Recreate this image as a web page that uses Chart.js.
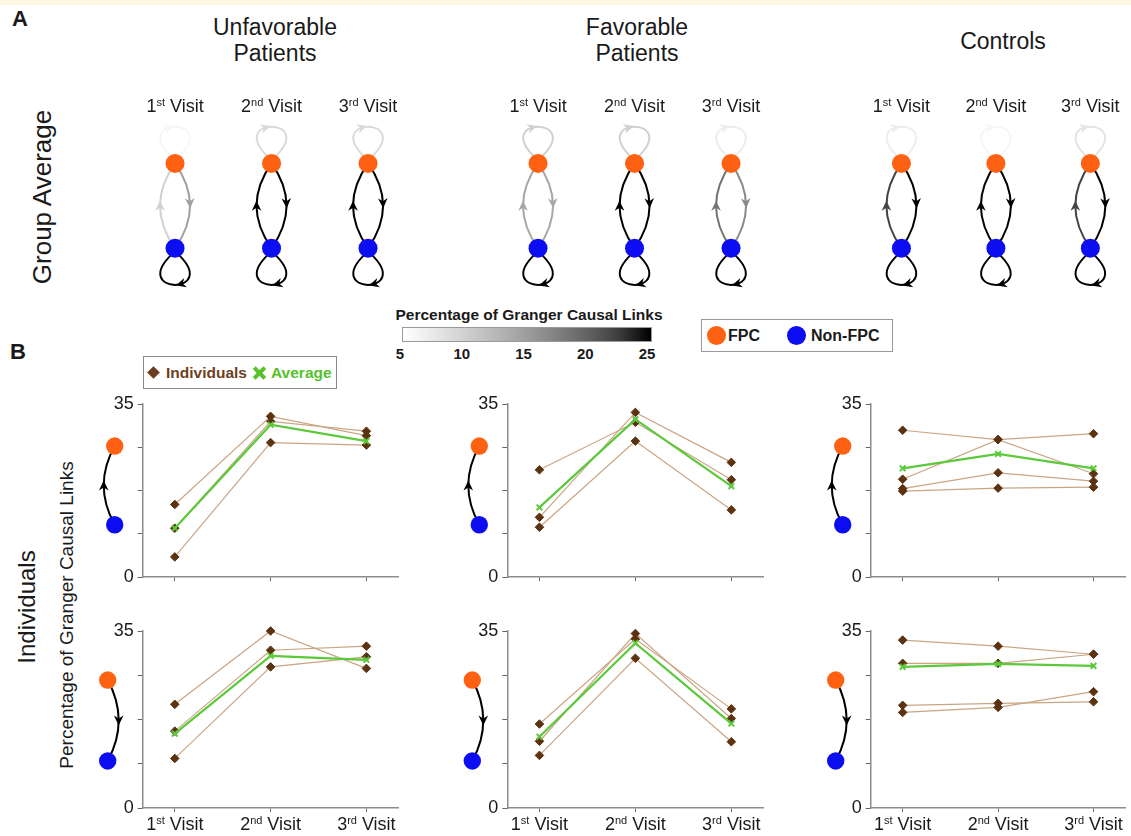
<!DOCTYPE html>
<html><head><meta charset="utf-8">
<script src="https://cdn.jsdelivr.net/npm/chart.js@4.4.1/dist/chart.umd.min.js"></script>
<style>
html,body{margin:0;padding:0;background:#fff;}
#root{position:relative;width:1131px;height:836px;overflow:hidden;font-family:"Liberation Sans",Arial,sans-serif;color:#1a1a1a;}
.t{position:absolute;white-space:nowrap;transform:translate(-50%,-50%);text-align:center;}
.l{position:absolute;white-space:nowrap;transform:translateY(-50%);}
.rot{transform:translate(-50%,-50%) rotate(-90deg);}
canvas{position:absolute;}
</style></head>
<body><div id="root">
<div style="position:absolute;left:0;top:0;width:1131px;height:5px;background:#fdf6e0"></div>
<div class="l" style="left:12px;top:19px;font-weight:bold;font-size:22px;">A</div>
<div class="l" style="left:10px;top:352px;font-weight:bold;font-size:22px;">B</div>
<div class="t" style="left:275px;top:40px;font-size:23px;line-height:26px;">Unfavorable<br>Patients</div>
<div class="t" style="left:637px;top:40px;font-size:23px;line-height:26px;">Favorable<br>Patients</div>
<div class="t" style="left:1003px;top:41px;font-size:23px;line-height:26px;">Controls</div>
<div class="t rot" style="left:42px;top:197px;font-size:26px;">Group Average</div>
<div class="t rot" style="left:27px;top:607px;font-size:24px;">Individuals</div>
<div class="t rot" style="left:67px;top:615px;font-size:19px;">Percentage of Granger Causal Links</div>

<div style="position:absolute;left:143px;top:356px;width:194px;height:33px;border:1px solid #8a8a8a;box-sizing:border-box;"></div>
<div style="position:absolute;left:149px;top:368px;width:9px;height:9px;background:#6b3d1f;transform:rotate(45deg);"></div>
<div class="l" style="left:166px;top:373px;font-weight:bold;font-size:15.5px;color:#6e4020;">Individuals</div>
<div style="position:absolute;left:252px;top:371px;width:15px;height:4px;background:#55c22a;transform:rotate(45deg);"></div>
<div style="position:absolute;left:252px;top:371px;width:15px;height:4px;background:#55c22a;transform:rotate(-45deg);"></div>
<div class="l" style="left:271px;top:373px;font-weight:bold;font-size:15.5px;color:#55c22a;">Average</div>

<div class="t" style="left:529px;top:315px;font-weight:bold;font-size:15.5px;">Percentage of Granger Causal Links</div>
<div id="cbBar" style="position:absolute;left:402px;top:327px;width:250px;height:15px;border:1px solid #9a9a9a;box-sizing:border-box;"></div>
<div id="cbLabels"></div>

<div style="position:absolute;left:701px;top:319px;width:192px;height:33px;border:1px solid #9a9a9a;box-sizing:border-box;"></div>
<div style="position:absolute;left:707px;top:326px;width:19px;height:19px;border-radius:50%;background:#ff6112;"></div>
<div class="l" style="left:728px;top:336px;font-weight:bold;font-size:16px;">FPC</div>
<div style="position:absolute;left:787px;top:326px;width:19px;height:19px;border-radius:50%;background:#0d0df2;"></div>
<div class="l" style="left:811px;top:336px;font-weight:bold;font-size:16px;">Non-FPC</div>
</div>
<script>
// ---------------- DATA ----------------
const visits = [1, 2, 3];
const visitNums = ['1', '2', '3'];
const visitSups = ['st', 'nd', 'rd'];
const yTicks = [0, 8.75, 17.5, 26.25, 35];
const yLabeled = [0, 35];
const colorbarTicks = [5, 10, 15, 20, 25];

// Panel B, top row: Non-FPC -> FPC links (%)
const unfavUpIndividuals = [[14.7, 32.5, 28.6], [9.9, 31.5, 29.5], [4.1, 27.2, 26.7]];
const unfavUpAverage = [9.9, 30.8, 27.5];
const favUpIndividuals = [[21.7, 31.3, 19.7], [12.1, 33.3, 23.2], [10.1, 27.5, 13.6]];
const favUpAverage = [14.1, 31.9, 18.4];
const ctrlUpIndividuals = [[29.7, 27.8, 29.0], [19.8, 27.8, 20.9], [17.9, 21.1, 19.4], [17.4, 18.0, 18.2]];
const ctrlUpAverage = [22.0, 24.9, 22.0];

// Panel B, bottom row: FPC -> Non-FPC links (%)
const unfavDownIndividuals = [[20.5, 35.0, 27.6], [15.2, 31.2, 32.0], [9.8, 27.9, 29.9]];
const unfavDownAverage = [14.7, 30.1, 29.3];
const favDownIndividuals = [[16.6, 33.4, 19.6], [13.2, 34.5, 17.7], [10.4, 29.6, 13.1]];
const favDownAverage = [14.1, 32.6, 16.7];
const ctrlDownIndividuals = [[33.2, 32.0, 30.4], [28.6, 28.6, 30.4], [20.3, 20.7, 21.0], [18.9, 19.9, 23.0]];
const ctrlDownAverage = [27.9, 28.5, 28.1];

// Panel A self-loops (%)
const unfavFpcSelf = [6, 9, 9];
const favFpcSelf = [10, 10, 7];
const ctrlFpcSelf = [7, 6, 8];
const unfavNonFpcSelf = [27, 27, 27];
const favNonFpcSelf = [27, 27, 27];
const ctrlNonFpcSelf = [27, 27, 27];

// ---------------- HELPERS ----------------
const FONT = '"Liberation Sans", Arial, sans-serif';
const ORANGE = '#ff6112', BLUE = '#0d0df2';
const grayLevel = v => { const f = Math.min(1, Math.max(0, (v - 5) / 20)); return Math.round(255 * Math.pow(1 - f, 0.7)); };
const grayFor = v => { const g = grayLevel(v); return `rgb(${g},${g},${g})`; };

function arrowHead(ctx, x, y, ang, color, len = 10, half = 4.8) {
  ctx.save(); ctx.translate(x, y); ctx.rotate(ang);
  ctx.beginPath(); ctx.moveTo(len / 2, 0); ctx.lineTo(-len / 2, -half); ctx.lineTo(-len / 5, 0); ctx.lineTo(-len / 2, half); ctx.closePath();
  ctx.fillStyle = color; ctx.fill(); ctx.restore();
}
function cubicPt(p, t) { const u = 1 - t; return [0, 1].map(k => u*u*u*p[0][k] + 3*u*u*t*p[1][k] + 3*u*t*t*p[2][k] + t*t*t*p[3][k]); }
function cubicD(p, t) { const u = 1 - t; return [0, 1].map(k => 3*u*u*(p[1][k]-p[0][k]) + 6*u*t*(p[2][k]-p[1][k]) + 3*t*t*(p[3][k]-p[2][k])); }
function quadPt(p, t) { const u = 1 - t; return [0, 1].map(k => u*u*p[0][k] + 2*u*t*p[1][k] + t*t*p[2][k]); }
function quadD(p, t) { const u = 1 - t; return [0, 1].map(k => 2*u*(p[1][k]-p[0][k]) + 2*t*(p[2][k]-p[1][k])); }

function strokeCubic(ctx, p, color, lw, tArrow) {
  ctx.save(); ctx.strokeStyle = color; ctx.lineWidth = lw; ctx.beginPath();
  ctx.moveTo(p[0][0], p[0][1]); ctx.bezierCurveTo(p[1][0], p[1][1], p[2][0], p[2][1], p[3][0], p[3][1]); ctx.stroke(); ctx.restore();
  const a = cubicPt(p, tArrow), d = cubicD(p, tArrow); arrowHead(ctx, a[0], a[1], Math.atan2(d[1], d[0]), color);
}
function strokeQuad(ctx, p, color, lw, tArrow) {
  ctx.save(); ctx.strokeStyle = color; ctx.lineWidth = lw; ctx.beginPath();
  ctx.moveTo(p[0][0], p[0][1]); ctx.quadraticCurveTo(p[1][0], p[1][1], p[2][0], p[2][1]); ctx.stroke(); ctx.restore();
  const a = quadPt(p, tArrow), d = quadD(p, tArrow); arrowHead(ctx, a[0], a[1], Math.atan2(d[1], d[0]), color);
}
function drawVisitLabel(ctx, x, yCenter, i, size) {
  ctx.save(); ctx.fillStyle = '#1a1a1a'; ctx.textBaseline = 'alphabetic'; ctx.textAlign = 'left';
  const main = `${size}px ${FONT}`, sup = `${Math.round(size * 0.6)}px ${FONT}`;
  ctx.font = main; const w1 = ctx.measureText(visitNums[i]).width, w3 = ctx.measureText(' Visit').width;
  ctx.font = sup; const w2 = ctx.measureText(visitSups[i]).width;
  let x0 = x - (w1 + w2 + w3) / 2; const base = yCenter + size * 0.36;
  ctx.font = main; ctx.fillText(visitNums[i], x0, base); x0 += w1;
  ctx.font = sup; ctx.fillText(visitSups[i], x0, base - size * 0.36); x0 += w2;
  ctx.font = main; ctx.fillText(' Visit', x0, base);
  ctx.restore();
}
function addCanvas(left, top, w, h) {
  const c = document.createElement('canvas'); c.width = w; c.height = h;
  c.style.left = left + 'px'; c.style.top = top + 'px'; c.style.width = w + 'px'; c.style.height = h + 'px';
  document.getElementById('root').appendChild(c); return c;
}

// colorbar (same gray mapping as the network edges) and its labels
(function () {
  const stops = [];
  for (let v = 5; v <= 25; v += 2.5) { const g = grayLevel(v); stops.push(`rgb(${g},${g},${g}) ${((v - 5) / 20 * 100).toFixed(1)}%`); }
  document.getElementById('cbBar').style.background = `linear-gradient(to right, ${stops.join(',')})`;
  const host = document.getElementById('cbLabels');
  colorbarTicks.forEach(t => {
    const d = document.createElement('div'); d.className = 't';
    d.style.cssText = `left:${400 + (t - 5) / 20 * 247}px;top:353px;font-weight:bold;font-size:15px;`;
    d.textContent = String(t); host.appendChild(d);
  });
})();

// ---------------- PANEL A ----------------
const panelAGroups = [
  { fpcSelf: unfavFpcSelf, nonSelf: unfavNonFpcSelf, up: unfavUpAverage, down: unfavDownAverage, areaLeft: 142.7, areaW: 257.2 },
  { fpcSelf: favFpcSelf, nonSelf: favNonFpcSelf, up: favUpAverage, down: favDownAverage, areaLeft: 505.7, areaW: 257.2 },
  { fpcSelf: ctrlFpcSelf, nonSelf: ctrlNonFpcSelf, up: ctrlUpAverage, down: ctrlDownAverage, areaLeft: 869.8, areaW: 255.8 }
];
panelAGroups.forEach(g => {
  const cl = Math.floor(g.areaLeft - 40), cw = Math.min(1131 - cl, Math.ceil(g.areaW + 80));
  const ct = 88, ch = 212;
  const cv = addCanvas(cl, ct, cw, ch);
  const netPlugin = {
    id: 'net',
    beforeDatasetsDraw(chart) {
      const ctx = chart.ctx, xs = chart.scales.x, ys = chart.scales.y;
      visits.forEach((v, i) => {
        const cx = xs.getPixelForValue(v), yo = ys.getPixelForValue(1), yb = ys.getPixelForValue(0), mid = (yo + yb) / 2;
        strokeCubic(ctx, [[cx - 3, yo - 6], [cx - 46, yo - 47], [cx + 46, yo - 47], [cx + 3, yo - 6]], grayFor(g.fpcSelf[i]), 2, 0.42);
        strokeCubic(ctx, [[cx + 3, yb + 6], [cx + 46, yb + 47], [cx - 46, yb + 47], [cx - 3, yb + 6]], grayFor(g.nonSelf[i]), 2, 0.42);
        strokeQuad(ctx, [[cx, yb], [cx - 30, mid], [cx, yo]], grayFor(g.up[i]), 2, 0.5);
        strokeQuad(ctx, [[cx, yo], [cx + 30, mid], [cx, yb]], grayFor(g.down[i]), 2, 0.47);
      });
    },
    afterDraw(chart) {
      const xs = chart.scales.x;
      visits.forEach((v, i) => drawVisitLabel(chart.ctx, xs.getPixelForValue(v), 106 - ct, i, 18));
    }
  };
  new Chart(cv, {
    type: 'scatter',
    data: { datasets: [
      { data: visits.map(v => ({ x: v, y: 1 })), pointRadius: 9.5, backgroundColor: ORANGE, borderWidth: 0, pointBorderWidth: 0 },
      { data: visits.map(v => ({ x: v, y: 0 })), pointRadius: 9.5, backgroundColor: BLUE, borderWidth: 0, pointBorderWidth: 0 }
    ] },
    options: {
      responsive: false, animation: false, devicePixelRatio: 1,
      layout: { padding: { left: g.areaLeft - cl, right: cl + cw - (g.areaLeft + g.areaW), top: 121 - ct, bottom: ct + ch - 293 } },
      plugins: { legend: { display: false }, tooltip: { enabled: false } },
      scales: { x: { type: 'linear', display: false, min: 0.665, max: 3.33 }, y: { display: false, min: -0.5, max: 1.5 } }
    },
    plugins: [netPlugin]
  });
});

// ---------------- PANEL B ----------------
const individualsByRow = [[unfavUpIndividuals, favUpIndividuals, ctrlUpIndividuals], [unfavDownIndividuals, favDownIndividuals, ctrlDownIndividuals]];
const averagesByRow = [[unfavUpAverage, favUpAverage, ctrlUpAverage], [unfavDownAverage, favDownAverage, ctrlDownAverage]];
const colAreaLeft = [142.7, 507.3, 870.7], areaW = 259;
const rowsLayout = [
  { areaTop: 404, areaBottom: 580, canvasTop: 388, canvasBottom: 592, xAxisH: 12, labels: false, nodeDx: -28, orangeAt: 26.5, blueAt: 10.6, bulge: -11 },
  { areaTop: 631, areaBottom: 808, canvasTop: 615, canvasBottom: 836, xAxisH: 28, labels: true, nodeDx: -35, orangeAt: 25.3, blueAt: 9.3, bulge: 11 }
];
rowsLayout.forEach((row, r) => {
  colAreaLeft.forEach((aLeft, c) => {
    const cl = Math.floor(aLeft - 57), cw = Math.min(1131 - cl, Math.ceil(aLeft + areaW + 2) - cl);
    const ch = row.canvasBottom - row.canvasTop;
    const cv = addCanvas(cl, row.canvasTop, cw, ch);
    const ind = individualsByRow[r][c], avg = averagesByRow[r][c];
    const datasets = [{
      data: avg.map((v, i) => ({ x: visits[i], y: v })), borderColor: '#5cc93b', borderWidth: 2.2,
      pointStyle: 'crossRot', pointRadius: 4, pointBorderColor: '#5cc93b', pointBackgroundColor: '#5cc93b', pointBorderWidth: 2, clip: false, order: 0
    }].concat(ind.map(s => ({
      data: s.map((v, i) => ({ x: visits[i], y: v })), borderColor: '#caa584', borderWidth: 1.2,
      pointStyle: 'rectRot', pointRadius: 4.3, pointBackgroundColor: '#5c3311', pointBorderColor: '#5c3311', pointBorderWidth: 1, clip: false, order: 1
    })));
    const bPlugin = {
      id: 'bdeco',
      afterDraw(chart) {
        const ctx = chart.ctx, xs = chart.scales.x, ys = chart.scales.y;
        if (row.labels) visits.forEach((v, i) => drawVisitLabel(ctx, xs.getPixelForValue(v), chart.chartArea.bottom + 16, i, 18));
        const nx = chart.chartArea.left + row.nodeDx, yo = ys.getPixelForValue(row.orangeAt), yb = ys.getPixelForValue(row.blueAt), mid = (yo + yb) / 2;
        if (row.bulge < 0) strokeQuad(ctx, [[nx, yb], [nx + 2 * row.bulge, mid], [nx, yo]], '#000', 2, 0.5);
        else strokeQuad(ctx, [[nx, yo], [nx + 2 * row.bulge, mid], [nx, yb]], '#000', 2, 0.5);
        ctx.save();
        ctx.fillStyle = ORANGE; ctx.beginPath(); ctx.arc(nx, yo, 8.7, 0, 2 * Math.PI); ctx.fill();
        ctx.fillStyle = BLUE; ctx.beginPath(); ctx.arc(nx, yb, 8.7, 0, 2 * Math.PI); ctx.fill();
        ctx.restore();
      }
    };
    new Chart(cv, {
      type: 'line',
      data: { datasets },
      options: {
        responsive: false, animation: false, devicePixelRatio: 1,
        layout: { padding: { left: aLeft - cl - 40, right: cl + cw - (aLeft + areaW), top: row.areaTop - row.canvasTop, bottom: row.canvasBottom - row.areaBottom - row.xAxisH } },
        plugins: { legend: { display: false }, tooltip: { enabled: false } },
        elements: { line: { tension: 0 } },
        scales: {
          x: {
            type: 'linear', min: 0.665, max: 3.33,
            afterBuildTicks: a => { a.ticks = visits.map(v => ({ value: v })); },
            afterFit: s => { s.height = row.xAxisH; },
            ticks: { display: false },
            grid: { drawOnChartArea: false, drawTicks: true, tickLength: 4, color: '#666', lineWidth: 1 },
            border: { display: true, color: '#8c8c8c', width: 1.5 }
          },
          y: {
            min: 0, max: 35,
            afterBuildTicks: a => { a.ticks = yTicks.map(v => ({ value: v })); },
            afterFit: s => { s.width = 40; },
            ticks: { autoSkip: false, callback: v => (yLabeled.includes(v) ? String(v) : ''), font: { size: 18, family: FONT }, color: '#1a1a1a', padding: 4 },
            grid: { drawOnChartArea: false, drawTicks: true, tickLength: 5, color: '#666', lineWidth: 1 },
            border: { display: true, color: '#8c8c8c', width: 1.5 }
          }
        }
      },
      plugins: [bPlugin]
    });
  });
});
</script>
</body></html>
